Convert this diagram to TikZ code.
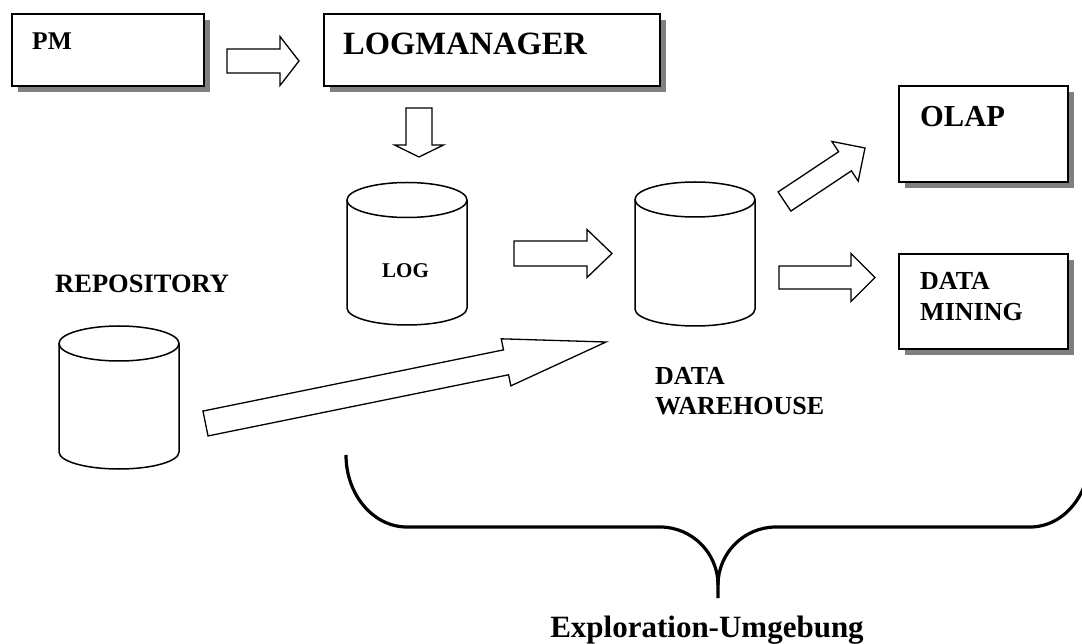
\documentclass[tikz,border=0pt]{standalone}
\usepackage{fontspec}
\setmainfont{Liberation Serif}
\usetikzlibrary{calc,shadows}

\tikzset{
  panel/.style={draw, line width=1.6pt, fill=white, anchor=north west, inner sep=0pt,
    drop shadow={shadow xshift=6pt, shadow yshift=-6pt, opacity=1, fill=black!50}},
  lbl/.style={inner sep=0pt},
  blockarr/.style={draw, line width=1.3pt, fill=white, line join=miter},
  cylline/.style={line width=1.5pt},
  bracepath/.style={line width=3.2pt, line join=round, line cap=butt},
}

% block arrow: tail, tip, shaft half-width, head half-width, head length
\newcommand\blockarrow[5]{%
  \coordinate (hb) at ($(#2)!#5!(#1)$);
  \draw[blockarr] ($(#1)!#3!90:(#2)$) -- ($(hb)!#3!90:(#2)$) -- ($(hb)!#4!90:(#2)$)
     -- (#2) -- ($(hb)!#4!-90:(#2)$) -- ($(hb)!#3!-90:(#2)$) -- ($(#1)!#3!-90:(#2)$) -- cycle;
}

% database cylinder: name, centre x, top-ellipse y, bottom-ellipse y
\newcommand\dbcylinder[4]{%
  \draw[cylline, fill=white] (#2-60,#3) -- (#2-60,#4)
     .. controls (#2-60,#4+9.4) and (#2-33.1,#4+17) .. (#2,#4+17)
     .. controls (#2+33.1,#4+17) and (#2+60,#4+9.4) .. (#2+60,#4) -- (#2+60,#3);
  \draw[cylline] (#2,#3) ellipse[x radius=60, y radius=17.5];
  \node[inner sep=0pt, minimum width=120pt, minimum height=143pt] (#1) at (#2,{(#3+#4)/2}) {};
}

\begin{document}
\begin{tikzpicture}[x=1pt, y=-1pt]
\useasboundingbox (0,0) rectangle (1082,644);

% boxes with shadows
\node[panel, minimum width=192pt, minimum height=72pt] (pm) at (11,13) {};
\node[panel, minimum width=336pt, minimum height=72pt] (lm) at (323,13) {};
\node[panel, minimum width=169pt, minimum height=96pt] (olap) at (898,85) {};
\node[panel, minimum width=169pt, minimum height=95pt] (dm) at (898,253) {};

\node[lbl, anchor=base west, font=\fontsize{25.5}{30}\selectfont\bfseries] (pmt) at (32,50) {PM};
\node[lbl, anchor=base west, font=\fontsize{32.5}{38}\selectfont\bfseries] (lmt) at (343,55) {LOGMANAGER};
\node[lbl, anchor=base west, font=\fontsize{30.5}{36}\selectfont\bfseries] (olapt) at (920,127) {OLAP};
\node[lbl, anchor=north west, align=left, font=\fontsize{26}{31}\selectfont\bfseries] (dmt) at (920,271.8) {DATA\\MINING};

% databases
\dbcylinder{log}{407}{200}{308}
\dbcylinder{dw}{695}{199.5}{309}
\dbcylinder{repo}{119}{343.5}{452}

\node[lbl, anchor=base, font=\fontsize{21}{25}\selectfont\bfseries] (logt) at (405.5,278) {LOG};
\node[lbl, anchor=base west, font=\fontsize{26.5}{31}\selectfont\bfseries] (repot) at (55,293) {REPOSITORY};
\node[lbl, anchor=north west, align=left, font=\fontsize{26}{30}\selectfont\bfseries] (dwt) at (655,366.8) {DATA\\WAREHOUSE};

% block arrows
\coordinate (a1t) at (227,61);      \coordinate (a1h) at (299,61);
\coordinate (a2t) at (419,108);     \coordinate (a2h) at (419,157);
\coordinate (a3t) at (514,253.5);   \coordinate (a3h) at (612,253.5);
\coordinate (a4t) at (784.5,201.5); \coordinate (a4h) at (865,148);
\coordinate (a5t) at (779,277.5);   \coordinate (a5h) at (875,277.5);
\coordinate (a6t) at (205.5,423.5); \coordinate (a6h) at (606,342);
\blockarrow{a1t}{a1h}{12pt}{24.5pt}{19pt}
\blockarrow{a2t}{a2h}{13pt}{24.5pt}{12pt}
\blockarrow{a3t}{a3h}{12.5pt}{24pt}{25pt}
\blockarrow{a4t}{a4h}{11.5pt}{23.8pt}{24pt}
\blockarrow{a5t}{a5h}{11.5pt}{24pt}{24pt}
\blockarrow{a6t}{a6h}{12.7pt}{24pt}{102pt}

% brace around the exploration environment
\coordinate (brl) at (346,455);
\coordinate (brtip) at (718,598);
\coordinate (brr) at (1090,455);
\begin{scope}
  \clip (0,0) rectangle (1082,644);
  \draw[bracepath] (brl) .. controls (346,494.8) and (373.3,527) .. (407,527) -- (660,527)
     .. controls (692,527) and (718,553) .. (718,585) -- (brtip);
  \draw[bracepath] (718,585) .. controls (718,553) and (744,527) .. (776,527) -- (1030,527)
     .. controls (1063.7,527) and (1090,494.8) .. (brr);
\end{scope}
\node[lbl, anchor=base, font=\fontsize{31}{36}\selectfont\bfseries] (expl) at (707,637) {Exploration-Umgebung};
\end{tikzpicture}
\end{document}
